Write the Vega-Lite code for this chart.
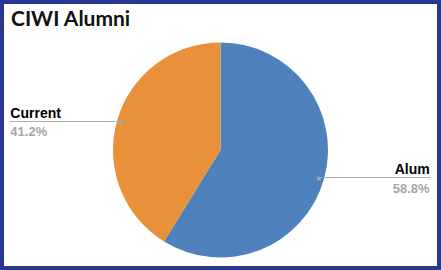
{
  "$schema": "https://vega.github.io/schema/vega-lite/v6.json",
  "width": 441,
  "height": 270,
  "autosize": "none",
  "padding": 0,
  "background": "white",
  "config": {"view": {"stroke": null}},
  "title": {
    "text": "CIWI Alumni",
    "anchor": "start",
    "orient": "top",
    "offset": -51,
    "dx": 15,
    "font": "Lato",
    "fontSize": 21,
    "fontWeight": "bold",
    "color": "#111111",
    "baseline": "alphabetic"
  },
  "data": {
    "values": [
      {"category": "Alum", "share": 0.588},
      {"category": "Current", "share": 0.412}
    ]
  },
  "layer": [
    {
      "mark": {"type": "rect", "fill": "white", "stroke": "#283891", "strokeWidth": 8}
    },
    {
      "mark": {"type": "arc", "radius": 107.5, "yOffset": 15},
      "encoding": {
        "theta": {"field": "share", "type": "quantitative", "stack": true},
        "order": {"field": "category", "type": "ordinal"},
        "color": {
          "field": "category",
          "type": "nominal",
          "scale": {"domain": ["Alum", "Current"], "range": ["#4f81bd", "#e8913a"]},
          "legend": null
        }
      }
    },
    {
      "mark": {"type": "text", "radius": 102, "yOffset": 15, "align": "left", "dx": -112, "dy": -4, "baseline": "alphabetic", "font": "Liberation Sans", "fontSize": 14, "fontWeight": "bold", "color": "#000000"},
      "encoding": {
        "theta": {"field": "share", "type": "quantitative", "stack": true},
        "order": {"field": "category", "type": "ordinal"},
        "text": {"condition": {"test": "datum.category == 'Current'", "field": "category"}, "value": ""}
      }
    },
    {
      "mark": {"type": "text", "radius": 102, "yOffset": 15, "align": "left", "dx": -112, "dy": 14, "baseline": "alphabetic", "font": "Liberation Sans", "fontSize": 13, "fontWeight": "bold", "color": "#a6a6a6"},
      "encoding": {
        "theta": {"field": "share", "type": "quantitative", "stack": true},
        "order": {"field": "category", "type": "ordinal"},
        "text": {"condition": {"test": "datum.category == 'Current'", "field": "share", "format": ".1%"}, "value": ""}
      }
    },
    {
      "mark": {"type": "text", "radius": 102, "yOffset": 15, "align": "right", "dx": 111, "dy": -4, "baseline": "alphabetic", "font": "Liberation Sans", "fontSize": 14, "fontWeight": "bold", "color": "#000000"},
      "encoding": {
        "theta": {"field": "share", "type": "quantitative", "stack": true},
        "order": {"field": "category", "type": "ordinal"},
        "text": {"condition": {"test": "datum.category == 'Alum'", "field": "category"}, "value": ""}
      }
    },
    {
      "mark": {"type": "text", "radius": 102, "yOffset": 15, "align": "right", "dx": 111, "dy": 15, "baseline": "alphabetic", "font": "Liberation Sans", "fontSize": 13, "fontWeight": "bold", "color": "#a6a6a6"},
      "encoding": {
        "theta": {"field": "share", "type": "quantitative", "stack": true},
        "order": {"field": "category", "type": "ordinal"},
        "text": {"condition": {"test": "datum.category == 'Alum'", "field": "share", "format": ".1%"}, "value": ""}
      }
    },
    {
      "mark": {"type": "text", "radius": 102, "yOffset": 15, "align": "right", "baseline": "middle", "font": "DejaVu Sans Mono", "fontSize": 9.8, "color": "#a6a6a6"},
      "encoding": {
        "theta": {"field": "share", "type": "quantitative", "stack": true},
        "order": {"field": "category", "type": "ordinal"},
        "text": {"condition": {"test": "datum.category == 'Current'", "value": "───────────────────"}, "value": ""}
      }
    },
    {
      "mark": {"type": "text", "radius": 102, "yOffset": 15, "align": "left", "baseline": "middle", "font": "DejaVu Sans Mono", "fontSize": 9.8, "color": "#a6a6a6"},
      "encoding": {
        "theta": {"field": "share", "type": "quantitative", "stack": true},
        "order": {"field": "category", "type": "ordinal"},
        "text": {"condition": {"test": "datum.category == 'Alum'", "value": "───────────────────"}, "value": ""}
      }
    },
    {
      "mark": {"type": "text", "radius": 102, "yOffset": 15, "align": "center", "baseline": "middle", "font": "DejaVu Sans", "fontSize": 5, "color": "#a6a6a6", "text": "●"},
      "encoding": {
        "theta": {"field": "share", "type": "quantitative", "stack": true},
        "order": {"field": "category", "type": "ordinal"}
      }
    }
  ]
}
